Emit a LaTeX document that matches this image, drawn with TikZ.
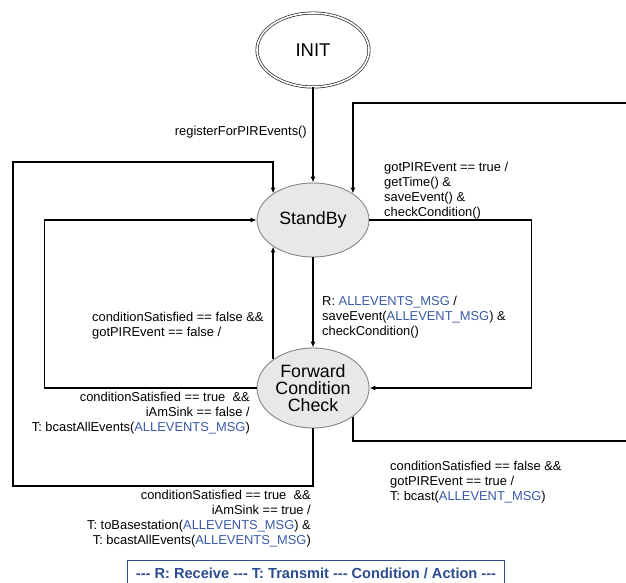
\documentclass[tikz,border=0pt]{standalone}
\usepackage{fontspec}
\setmainfont{Liberation Sans}
\usetikzlibrary{shapes.geometric,arrows.meta}
\definecolor{msgblue}{HTML}{3A5AA8}
\definecolor{legblue}{HTML}{2C4C90}
\definecolor{nodefill}{HTML}{E8E8E8}
\definecolor{nodeline}{HTML}{858585}
\newcommand{\msg}[1]{\textcolor{msgblue}{#1}}
\newcommand{\tdash}{-\kern0pt-\kern0pt-}
\begin{document}
\begin{tikzpicture}[x=1pt,y=-1pt,
  state/.style={ellipse, draw=nodeline, fill=nodefill, line width=0.9pt, inner sep=0pt, align=center, font=\fontsize{17.8}{17}\selectfont},
  conn/.style={line width=1.35pt, black},
  arr/.style={conn, -{Latex[length=6pt,width=5pt]}},
  lbl/.style={inner sep=0pt, font=\fontsize{12.9}{15}\selectfont}
]
\useasboundingbox (0,0) rectangle (626,583);
\node[ellipse, draw=black!85, double, double distance=1.6pt, line width=0.7pt, fill=white, minimum width=112, minimum height=74, inner sep=0pt, font=\fontsize{18.5}{18}\selectfont] (init) at (313,50) {INIT};
\node[state, minimum width=112, minimum height=74] (sb) at (313,220) {StandBy};
\node[state, minimum width=112, minimum height=80] (fcc) at (313,388) {Forward\\Condition\\Check};

\coordinate (trc) at (626,103);
\coordinate (brc) at (626,441);
\coordinate (olb) at (13,486);
\coordinate (olt) at (13,162);

\draw[arr] (init.south) -- (sb.north);
\draw[arr] (trc) -| (sb.north east);
\draw[arr] (sb.east) -| ([xshift=162pt]sb.east) |- (fcc.east);
\draw[arr] (sb.south) -- (fcc.north);
\draw[arr] (fcc.north west) -- (sb.south west);
\draw[arr] (fcc.west) -| ([xshift=-212pt]sb.west) -- (sb.west);
\draw[arr] (fcc.south) |- (olb) -- (olt) -| (sb.north west);
\draw[conn] (fcc.south east) |- (brc);

\node[lbl, anchor=east] (l1) at (307,132) {registerForPIREvents()};
\node[lbl, anchor=north west, align=left] (l2) at (384,162) {gotPIREvent == true /\\getTime() \&\\saveEvent() \&\\checkCondition()};
\node[lbl, anchor=north west, align=left] (l3) at (322,296) {R: \msg{ALLEVENTS\_MSG} /\\saveEvent(\msg{ALLEVENT\_MSG}) \&\\checkCondition()};
\node[lbl, anchor=north west, align=left] (l4) at (92,312) {conditionSatisfied == false \&\&\\gotPIREvent == false /};
\node[lbl, anchor=north east, align=right] (l5) at (250,392) {conditionSatisfied == true\ \ \&\&\\iAmSink == false /\\T: bcastAllEvents(\msg{ALLEVENTS\_MSG})};
\node[lbl, anchor=north west, align=left] (l6) at (390,461) {conditionSatisfied == false \&\&\\gotPIREvent == true /\\T: bcast(\msg{ALLEVENT\_MSG})};
\node[lbl, anchor=north east, align=right] (l7) at (311,490) {conditionSatisfied == true\ \ \&\&\\iAmSink == true /\\T: toBasestation(\msg{ALLEVENTS\_MSG}) \&\\T: bcastAllEvents(\msg{ALLEVENTS\_MSG})};

\node[draw=legblue, line width=0.9pt, minimum width=377, minimum height=26, inner sep=0pt, text=legblue, font=\bfseries\fontsize{14.6}{16}\selectfont] (leg) at (316,573) {\tdash{} R: Receive \tdash{} T: Transmit \tdash{} Condition / Action \tdash};
\end{tikzpicture}
\end{document}
